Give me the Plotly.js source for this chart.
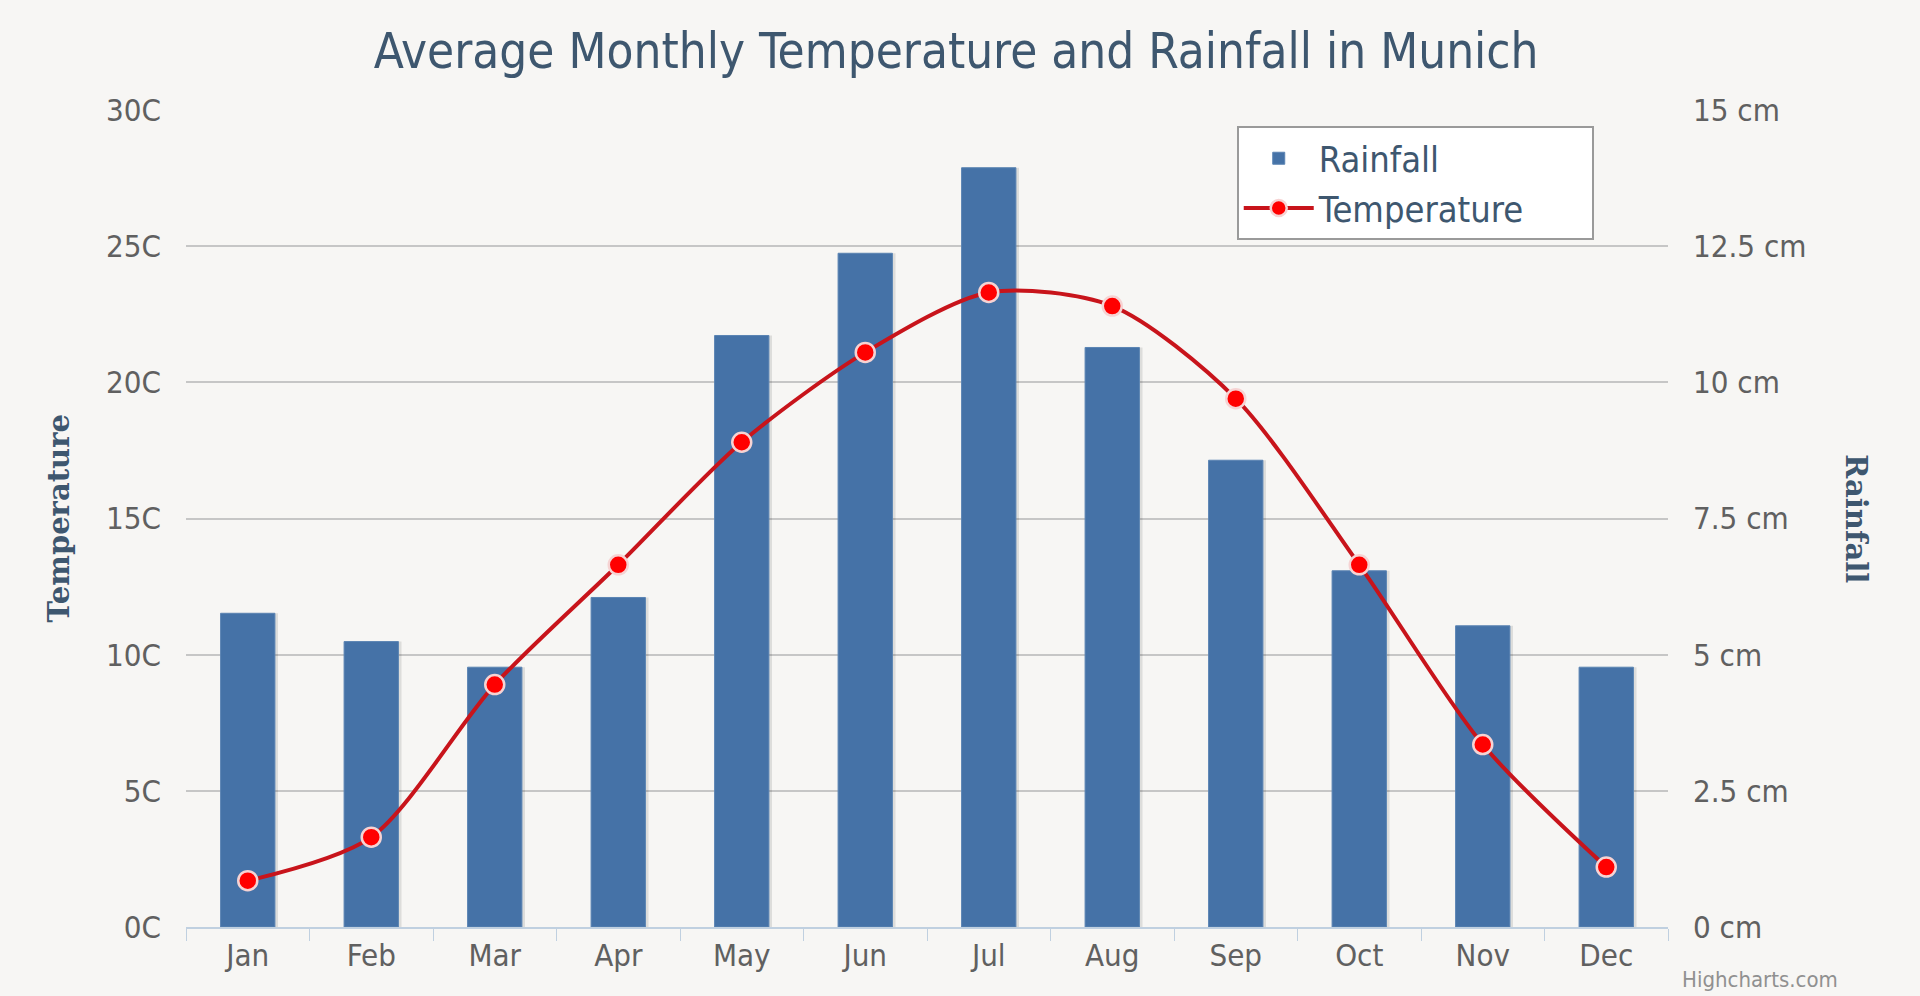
<!DOCTYPE html>
<html>
<head>
<meta charset="utf-8">
<script src="https://cdn.plot.ly/plotly-3.0.1.min.js"></script>
<style>
html,body{margin:0;padding:0;background:#f7f6f4;}
#chart{width:1920px;height:996px;}
</style>
</head>
<body>
<div id="chart"></div>
<script>
const months = ['Jan','Feb','Mar','Apr','May','Jun','Jul','Aug','Sep','Oct','Nov','Dec'];
const rainfall = [5.76, 5.24, 4.77, 6.05, 10.86, 12.37, 13.94, 10.64, 8.57, 6.54, 5.53, 4.77];
const temperature = [1.7, 3.3, 8.9, 13.3, 17.8, 21.1, 23.3, 22.8, 19.4, 13.3, 6.7, 2.2];
const tempTicks = [0,5,10,15,20,25,30];
const rainTicks = [0,2.5,5,7.5,10,12.5,15];

const font = '"DejaVu Sans Condensed", "DejaVu Sans", sans-serif';
const titleFont = '"DejaVu Serif", serif';
const pad = '\u00a0\u00a0\u00a0\u00a0\u00a0\u00a0';

const traces = [
  {
    type:'bar', name:'shadow', x:months, y:rainfall, yaxis:'y',
    width:0.44, offset:-0.195, showlegend:false, hoverinfo:'skip',
    marker:{color:'rgba(0,0,0,0.10)', line:{width:0}}
  },
  {
    type:'bar', name:'Rainfall' + pad, x:months, y:rainfall, yaxis:'y',
    width:0.44, offset:-0.22,
    marker:{color:'#4572a7', line:{color:'#5b84b3', width:1}}
  },
  {
    type:'scatter', mode:'lines+markers', name:'Temperature' + pad, x:months, y:temperature, yaxis:'y2',
    line:{color:'#c8141b', width:4, shape:'spline', smoothing:0.8},
    marker:{color:'#ff0000', size:19, line:{color:'#f6d3d3', width:2.5}}
  }
];

const layout = {
  width:1920, height:996,
  paper_bgcolor:'#f7f6f4', plot_bgcolor:'#f7f6f4',
  margin:{l:186, r:252, t:110, b:69},
  font:{family:font, color:'#606060', size:31},
  title:{text:'Average Monthly Temperature and Rainfall in Munich', x:0.498, xanchor:'center', y:0.949, yanchor:'middle',
         font:{family:font, size:49, color:'#3e576f'}},
  showlegend:true,
  barmode:'overlay',
  legend:{x:0.709, y:0.98, xanchor:'left', yanchor:'top', bgcolor:'#ffffff', bordercolor:'#9a9a9a', borderwidth:2,
          font:{family:font, size:36, color:'#3e576f'}, traceorder:'normal', itemwidth:70, valign:'middle'},
  xaxis:{type:'category', range:[-0.5,11.5], tickvals:months, ticktext:months, tickson:'boundaries', ticks:'outside', ticklen:12, tickcolor:'#c0d0e0',
         showline:true, linecolor:'#c0d0e0', linewidth:2, showgrid:false, tickfont:{size:31, color:'#606060'}, fixedrange:true},
  yaxis:{range:[0,15], side:'right', tickvals:rainTicks, ticktext:rainTicks.map(v=>v+' cm'), showgrid:true, gridcolor:'#c6c6c6', gridwidth:1.5,
         zeroline:false, ticks:'', ticklabelstandoff:24, tickfont:{size:31, color:'#606060'}},
  yaxis2:{range:[0,30], overlaying:'y', side:'left', tickvals:tempTicks, ticktext:tempTicks.map(v=>v+'C'), showgrid:false,
          zeroline:false, ticks:'', ticklabelstandoff:24, tickfont:{size:31, color:'#606060'}},
  annotations:[
    {text:'<b>Temperature</b>', xref:'paper', yref:'paper', x:-0.0857, y:0.5, xanchor:'center', yanchor:'middle', textangle:-90,
     showarrow:false, font:{family:titleFont, size:29, color:'#3e576f'}},
    {text:'<b>Rainfall</b>', xref:'paper', yref:'paper', x:1.127, y:0.5, xanchor:'center', yanchor:'middle', textangle:90,
     showarrow:false, font:{family:titleFont, size:29, color:'#3e576f'}},
    {text:'Highcharts.com', xref:'paper', yref:'paper', x:1.008, y:-0.082, xanchor:'left', yanchor:'bottom',
     showarrow:false, font:{family:font, size:22, color:'#909090'}}
  ]
};

Plotly.newPlot('chart', traces, layout, {displayModeBar:false, responsive:false});
</script>
</body>
</html>
